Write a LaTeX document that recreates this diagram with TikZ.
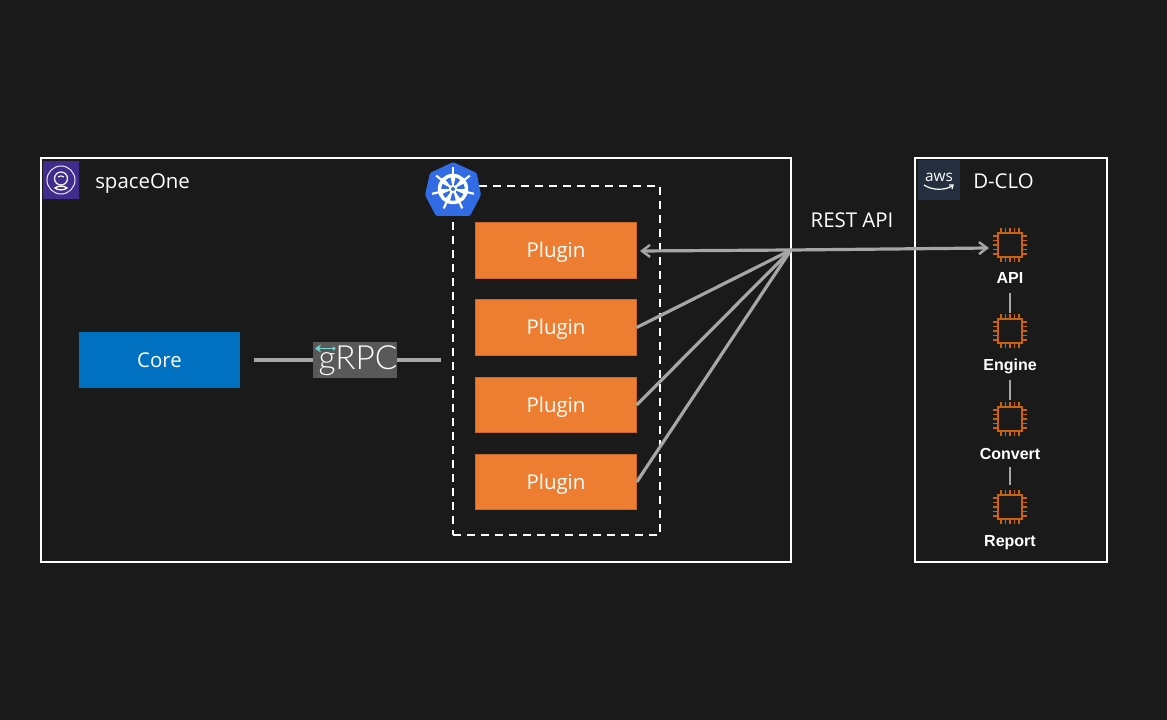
\documentclass[tikz,border=0pt]{standalone}
\usepackage{fontspec}
\setmainfont{Open Sans}
\newfontfamily\boldlabel{Liberation Sans}[BoldFont={Liberation Sans Bold}]
\newfontfamily\logofont{Lato Light}
\usetikzlibrary{arrows.meta}
\definecolor{bg}{HTML}{1A1A1A}
\definecolor{conn}{HTML}{A6A6A6}
\definecolor{plug}{HTML}{ED7D31}
\definecolor{plugedge}{HTML}{C8682A}
\definecolor{corecol}{HTML}{0070C0}
\definecolor{chipcol}{HTML}{CC6210}
\definecolor{kube}{HTML}{326CE5}
\definecolor{spacecol}{HTML}{3F2C8C}
\definecolor{awscol}{HTML}{232F3E}
\definecolor{grpcbg}{HTML}{595959}
\definecolor{teal}{HTML}{6FD6D0}
\tikzset{
  panel/.style={draw=white,line width=1.5pt,fill=none},
  dashbox/.style={draw=white,line width=1.5pt,dash pattern=on 6pt off 4.5pt},
  plugin/.style={draw=plugedge,line width=.5pt,fill=plug,minimum width=120.5pt,minimum height=41.5pt,inner sep=0pt,text=white,font=\fontsize{15.3}{17}\selectfont},
  corebox/.style={fill=corecol,minimum width=120.5pt,minimum height=42pt,inner sep=0pt,text=white,font=\fontsize{15.3}{17}\selectfont},
  title/.style={text=white,inner sep=0pt,font=\fontsize{15.3}{17}\selectfont},
  chiplabel/.style={text=white,inner sep=0pt,font=\boldlabel\bfseries\fontsize{12}{14}\selectfont},
  chipbody/.style={draw=chipcol,line width=1.2pt,minimum size=18pt,inner sep=0pt},
  pin/.style={draw=chipcol,line width=1.1pt},
  conline/.style={draw=conn,line width=2.4pt},
  conarrow/.style={conline,-{Straight Barb[length=6pt,width=9pt,line width=1.8pt]}},
  grpcbox/.style={fill=grpcbg,minimum width=63pt,minimum height=27pt,inner sep=0pt},
  grpctext/.style={text=white,inner sep=0pt,font=\logofont\fontsize{25}{27}\selectfont},
}
\newcommand{\chipicon}[2]{%
  \node[chipbody] (#1) at (#2) {};
  \foreach \d in {-8.8,-4.4,0,4.4,8.8}{
    \draw[pin] ([shift={(\d,-12)}]#1.center) -- ++(0,-5);
    \draw[pin] ([shift={(\d,12)}]#1.center) -- ++(0,5);
    \draw[pin] ([shift={(-12,\d)}]#1.center) -- ++(-5,0);
    \draw[pin] ([shift={(12,\d)}]#1.center) -- ++(5,0);
  }
}
\newcommand{\lowered}[1]{\raisebox{-5.4pt}[0pt][0pt]{#1}}
\begin{document}
\begin{tikzpicture}[x=.75pt,y=-.75pt]
\useasboundingbox[fill=bg] (0,0) rectangle (1167,720);
% panels
\node[panel,minimum width=562.5pt,minimum height=302.5pt,inner sep=0pt] (spacepanel) at (416,360) {};
\node[panel,minimum width=143.5pt,minimum height=302.5pt,inner sep=0pt] (dclopanel) at (1011,360) {};
\node[dashbox,minimum width=155pt,minimum height=261.5pt,inner sep=0pt] (kubebox) at (556.5,360.5) {};
% spaceOne icon
\node[fill=spacecol,minimum width=27pt,minimum height=28.5pt,inner sep=0pt] (spaceicon) at (61,180) {};
\draw[white!85!spacecol,line width=.8pt] (spaceicon.center) circle (14);
\draw[white!90!spacecol,line width=1pt] (61,178.5) circle (6.5);
\draw[white,line width=1pt] (55,188) .. controls (58,185.5) and (64,185.5) .. (67,188) .. controls (64,190.5) and (58,190.5) .. (55,188) -- cycle;
\draw[white,line width=.8pt] (58,177) .. controls (60,175.5) and (62,175.5) .. (64,177);
% kubernetes icon
\fill[kube,rounded corners=1pt] (453,162) -- (476.7,173) -- (481,195) -- (470,216) -- (436,216) -- (425,195) -- (430,173) -- cycle;
\coordinate (wheel) at (453,189);
\draw[white,line width=2.6pt] (wheel) circle (13.5);
\foreach \a in {-90,-38.6,12.8,64.3,115.7,167.1,218.6}{
  \draw[white,line width=1.6pt] (wheel) -- ++(\a:21.5);
  \fill[white] ([shift={(\a+10:3)}]wheel) -- ([shift={(\a-10:3)}]wheel) -- ([shift={(\a-12:13)}]wheel) -- ([shift={(\a+12:13)}]wheel) -- cycle;
}
\fill[white] (wheel) circle (4);
\fill[kube] (wheel) circle (2);
% plugins and core
\node[plugin] (p1) at (556,250.5) {\lowered{Plugin}};
\node[plugin] (p2) at (556,327.5) {\lowered{Plugin}};
\node[plugin] (p3) at (556,405) {\lowered{Plugin}};
\node[plugin] (p4) at (556,482) {\lowered{Plugin}};
\node[corebox] (core) at (159.5,360) {\lowered{Core}};
% gRPC
\node[grpcbox] (grpc) at (355,360) {};
\node[grpctext] (grpclabel) at (358,360.5) {gRPC};
\draw[teal,line width=.7pt,{Stealth[length=4.5pt,width=6pt]}-{Circle[length=2.5pt]}] (315,348.5) -- (335.5,348.5);
\coordinate (coreout) at (254,360);
\coordinate (grpcout) at (441,360);
\draw[conline] (coreout) -- (grpc.west);
\draw[conline] (grpc.east) -- (grpcout);
% D-CLO
\node[fill=awscol,minimum width=31.5pt,minimum height=30pt,inner sep=0pt] (awsicon) at (939,180) {};
\node[text=white,inner sep=0pt,font=\fontsize{11.5}{12}\selectfont] (awstext) at (939,177) {aws};
\draw[white,line width=.9pt] (924,185) .. controls (932,190.5) and (945,190.5) .. (952,186);
\draw[white,line width=.9pt] (949,185) -- (953,185) -- (952,189);
\node[title,anchor=west] (dclotitle) at (973,181.5) {D-CLO};
\node[title,anchor=west] (spacetitle) at (95,183.5) {spaceOne};
% chips
\chipicon{cpua}{1010,245}
\chipicon{cpub}{1010,331}
\chipicon{cpuc}{1010,419}
\chipicon{cpud}{1010,507}
\node[chiplabel] (la) at (1010,277.5) {API};
\node[chiplabel] (lb) at (1010,366.5) {Engine};
\node[chiplabel] (lc) at (1010,453.5) {Convert};
\node[chiplabel] (ld) at (1010,543) {Report};
\draw[conn,line width=2.2pt] (1010,293) -- (1010,313);
\draw[conn,line width=2.2pt] (1010,380) -- (1010,400);
\draw[conn,line width=2.2pt] (1010,467) -- (1010,485);
% REST
\coordinate (hub) at (791,250);
\node[title] (rest) at (852,220.5) {REST API};
\draw[conarrow] (hub) -- (640,251);
\draw[conarrow] (hub) -- (989,248);
\draw[conline] (p2.east) -- (hub);
\draw[conline] (p3.east) -- (hub);
\draw[conline] (p4.east) -- (hub);
\end{tikzpicture}
\end{document}
